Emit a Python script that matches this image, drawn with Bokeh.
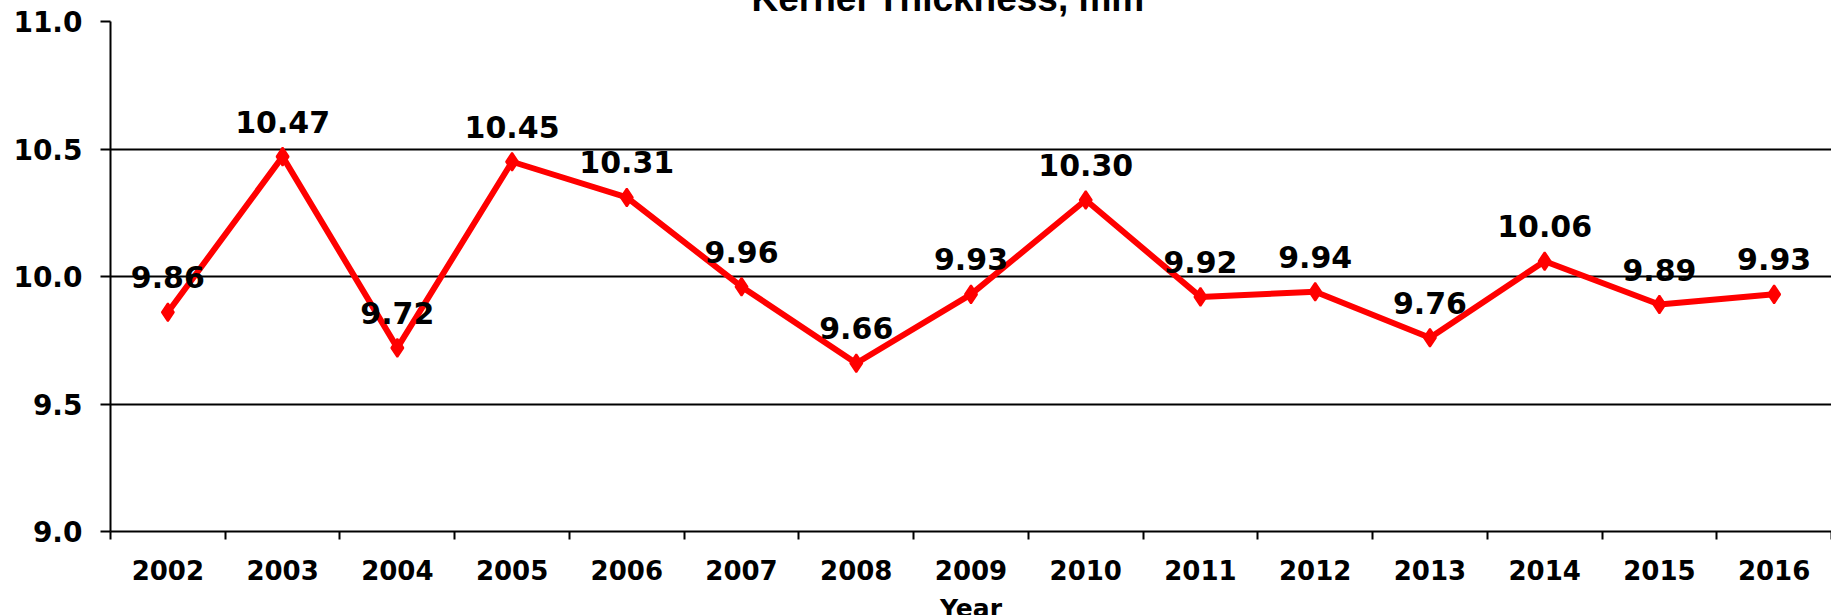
from bokeh.plotting import figure
from bokeh.models import (ColumnDataSource, Range1d, FixedTicker, LabelSet, Title)
from bokeh.core.properties import value
from bokeh.embed import file_html
from bokeh.resources import INLINE

# ---- data ----
years = [2002, 2003, 2004, 2005, 2006, 2007, 2008, 2009, 2010, 2011, 2012, 2013, 2014, 2015, 2016]
thickness = [9.86, 10.47, 9.72, 10.45, 10.31, 9.96, 9.66, 9.93, 10.30, 9.92, 9.94, 9.76, 10.06, 9.89, 9.93]
y_ticks = [9.0, 9.5, 10.0, 10.5, 11.0]
y_tick_labels = ["9.0", "9.5", "10.0", "10.5", "11.0"]
title_text = "Kernel Thickness, mm"
x_title = "Year"

source = ColumnDataSource(dict(
    x=years,
    y=thickness,
    label=[f"{v:.2f}" for v in thickness],
))

p = figure(
    width=1839, height=675,
    x_range=Range1d(years[0] - 0.5, years[-1] + 0.5),
    y_range=Range1d(y_ticks[0], y_ticks[-1]),
    output_backend="svg", toolbar_location=None,
    min_border_left=118, min_border_top=61, min_border_bottom=104, min_border_right=0,
    margin=(-40, -8, -20, -8),
)
p.outline_line_color = None
p.background_fill_color = "white"
p.border_fill_color = "white"

# title (its upper part lies above the visible page, as in the original)
p.title = Title(text=title_text, align="left", offset=641, standoff=5,
                text_font="Liberation Sans", text_font_style="bold",
                text_font_size="37px", text_color="black")

# y axis
p.yaxis.ticker = FixedTicker(ticks=y_ticks)
p.yaxis.major_label_overrides = {t: s for t, s in zip(y_ticks, y_tick_labels)}
p.yaxis.major_label_text_font = "DejaVu Sans"
p.yaxis.major_label_text_font_style = "bold"
p.yaxis.major_label_text_font_size = "28px"
p.yaxis.major_label_text_color = "black"
p.yaxis.major_tick_out = 10
p.yaxis.major_tick_in = 0
p.yaxis.minor_tick_line_color = None
p.yaxis.major_label_standoff = 18
p.yaxis.axis_line_width = 2
p.yaxis.major_tick_line_width = 2
p.yaxis.axis_line_color = "black"
p.yaxis.major_tick_line_color = "black"

# x axis: labels at category centres, tick marks between categories
p.xaxis.ticker = FixedTicker(ticks=years, minor_ticks=[y - 0.5 for y in years] + [years[-1] + 0.5])
p.xaxis.major_label_overrides = {y: str(y) for y in years}
p.xaxis.major_label_text_font = "DejaVu Sans"
p.xaxis.major_label_text_font_style = "bold"
p.xaxis.major_label_text_font_size = "26px"
p.xaxis.major_label_text_color = "black"
p.xaxis.major_tick_line_color = None
p.xaxis.major_tick_out = 0
p.xaxis.major_tick_in = 0
p.xaxis.minor_tick_out = 8
p.xaxis.minor_tick_in = 0
p.xaxis.minor_tick_line_width = 2
p.xaxis.minor_tick_line_color = "black"
p.xaxis.major_label_standoff = 20
p.xaxis.axis_line_width = 2
p.xaxis.axis_line_color = "black"
p.xaxis.axis_label = x_title
p.xaxis.axis_label_text_font = "DejaVu Sans"
p.xaxis.axis_label_text_font_style = "bold"
p.xaxis.axis_label_text_font_size = "25px"
p.xaxis.axis_label_text_color = "black"
p.xaxis.axis_label_standoff = 11

# grid
p.xgrid.grid_line_color = None
p.ygrid.grid_line_color = "black"
p.ygrid.grid_line_width = 2
p.ygrid.grid_line_alpha = 1.0

# series
p.line("x", "y", source=source, line_color="#FF0000", line_width=6)
p.scatter("x", "y", source=source, marker="diamond", size=18,
          fill_color="#FF0000", line_color="#FF0000", line_width=2)

labels = LabelSet(x="x", y="y", text="label", source=source,
                  text_align="center", text_baseline="alphabetic", y_offset=24,
                  text_font=value("DejaVu Sans"), text_font_style="bold",
                  text_font_size="30px", text_color="black")
p.add_layout(labels)

open("out.html", "w").write(file_html(p, INLINE))
